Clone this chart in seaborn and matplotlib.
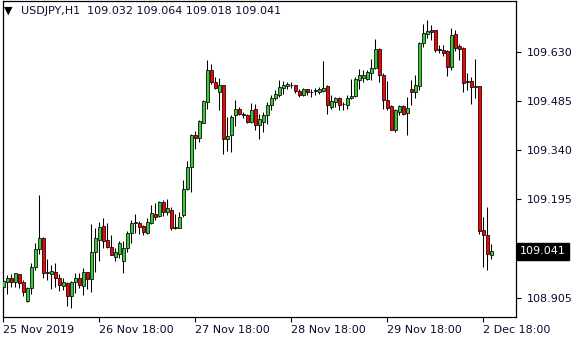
import matplotlib
matplotlib.use("Agg")
import matplotlib.pyplot as plt
import matplotlib.transforms as mtransforms
import seaborn as sns
import numpy as np

# ---------------- data (USDJPY H1) ----------------
opens = [108.935, 108.952, 108.962, 108.952, 108.973, 108.950, 108.896, 108.932, 108.994, 109.047,
         109.080, 108.977, 108.975, 108.981, 108.962, 108.940, 108.949, 108.908, 108.950, 108.962,
         108.940, 108.979, 108.959, 109.038, 109.075, 109.116, 109.075, 109.055, 109.026, 109.035,
         109.014, 109.052, 109.096, 109.124, 109.125, 109.116, 109.097, 109.126, 109.153, 109.145,
         109.187, 109.158, 109.165, 109.113, 109.111, 109.148, 109.227, 109.290, 109.386, 109.375,
         109.422, 109.483, 109.578, 109.542, 109.512, 109.532, 109.372, 109.386, 109.443, 109.463,
         109.446, 109.445, 109.424, 109.463, 109.414, 109.425, 109.443, 109.473, 109.494, 109.502,
         109.524, 109.531, 109.534, 109.532, 109.514, 109.502, 109.520, 109.512, 109.516, 109.512,
         109.516, 109.529, 109.468, 109.483, 109.494, 109.478, 109.475, 109.493, 109.499, 109.549,
         109.553, 109.552, 109.569, 109.583, 109.638, 109.563, 109.490, 109.471, 109.401, 109.453,
         109.470, 109.451, 109.522, 109.512, 109.529, 109.658, 109.684, 109.694, 109.694, 109.638,
         109.637, 109.632, 109.586, 109.684, 109.647, 109.643, 109.545, 109.546, 109.527, 109.529,
         109.104, 109.091, 109.032]
highs = [108.960, 108.971, 108.973, 108.978, 108.975, 108.957, 108.937, 109.006, 109.065, 109.207,
         109.084, 109.019, 109.001, 109.008, 108.973, 108.962, 108.952, 108.954, 108.976, 108.976,
         108.991, 108.979, 109.121, 109.111, 109.127, 109.139, 109.124, 109.089, 109.050, 109.072,
         109.072, 109.101, 109.134, 109.151, 109.131, 109.119, 109.141, 109.178, 109.183, 109.190,
         109.193, 109.196, 109.171, 109.151, 109.158, 109.252, 109.308, 109.387, 109.396, 109.429,
         109.488, 109.607, 109.596, 109.556, 109.553, 109.532, 109.438, 109.443, 109.488, 109.468,
         109.453, 109.448, 109.480, 109.478, 109.448, 109.453, 109.483, 109.504, 109.517, 109.547,
         109.544, 109.542, 109.542, 109.534, 109.522, 109.524, 109.522, 109.520, 109.524, 109.527,
         109.603, 109.532, 109.502, 109.497, 109.497, 109.483, 109.502, 109.552, 109.556, 109.581,
         109.576, 109.576, 109.611, 109.668, 109.643, 109.568, 109.544, 109.475, 109.463, 109.475,
         109.475, 109.497, 109.547, 109.561, 109.660, 109.712, 109.725, 109.711, 109.694, 109.652,
         109.650, 109.635, 109.702, 109.694, 109.655, 109.645, 109.569, 109.556, 109.609, 109.529,
         109.144, 109.173, 109.064]
lows = [108.888, 108.914, 108.937, 108.937, 108.934, 108.908, 108.893, 108.914, 108.986, 109.035,
        108.962, 108.957, 108.929, 108.937, 108.924, 108.927, 108.880, 108.873, 108.917, 108.932,
        108.912, 108.930, 108.920, 108.979, 109.013, 109.052, 109.052, 109.030, 109.013, 109.023,
        108.978, 109.040, 109.065, 109.096, 109.093, 109.089, 109.094, 109.121, 109.134, 109.144,
        109.145, 109.148, 109.104, 109.106, 109.109, 109.143, 109.222, 109.217, 109.345, 109.365,
        109.421, 109.463, 109.537, 109.521, 109.460, 109.330, 109.338, 109.335, 109.411, 109.443,
        109.434, 109.421, 109.421, 109.401, 109.372, 109.394, 109.419, 109.458, 109.488, 109.497,
        109.507, 109.522, 109.524, 109.510, 109.497, 109.500, 109.504, 109.497, 109.504, 109.507,
        109.512, 109.448, 109.463, 109.468, 109.458, 109.458, 109.463, 109.491, 109.497, 109.522,
        109.542, 109.547, 109.547, 109.579, 109.542, 109.463, 109.458, 109.399, 109.394, 109.445,
        109.445, 109.386, 109.475, 109.495, 109.517, 109.645, 109.672, 109.665, 109.630, 109.628,
        109.618, 109.558, 109.576, 109.632, 109.606, 109.512, 109.517, 109.478, 109.493, 109.094,
        108.996, 108.986, 109.018]
closes = [108.954, 108.962, 108.952, 108.976, 108.949, 108.922, 108.932, 108.994, 109.047, 109.080,
          108.976, 108.979, 108.983, 108.962, 108.942, 108.952, 108.908, 108.952, 108.962, 108.942,
          108.979, 108.959, 109.038, 109.080, 109.112, 109.073, 109.055, 109.032, 109.038, 109.067,
          109.050, 109.095, 109.126, 109.128, 109.112, 109.099, 109.127, 109.156, 109.144, 109.187,
          109.158, 109.168, 109.111, 109.111, 109.143, 109.227, 109.290, 109.386, 109.375, 109.426,
          109.487, 109.578, 109.542, 109.525, 109.532, 109.372, 109.383, 109.438, 109.463, 109.448,
          109.444, 109.424, 109.460, 109.414, 109.433, 109.443, 109.473, 109.494, 109.507, 109.527,
          109.532, 109.535, 109.533, 109.514, 109.502, 109.520, 109.512, 109.511, 109.518, 109.522,
          109.525, 109.473, 109.485, 109.494, 109.473, 109.477, 109.493, 109.499, 109.552, 109.561,
          109.563, 109.571, 109.583, 109.638, 109.563, 109.490, 109.465, 109.401, 109.458, 109.470,
          109.448, 109.466, 109.512, 109.532, 109.658, 109.687, 109.691, 109.689, 109.637, 109.636,
          109.628, 109.586, 109.681, 109.643, 109.640, 109.539, 109.543, 109.527, 109.531, 109.101,
          109.091, 109.033, 109.041]

x_tick_bars = [0, 24, 48, 72, 96, 120]
x_tick_labels = ["25 Nov 2019", "26 Nov 18:00", "27 Nov 18:00", "28 Nov 18:00",
                 "29 Nov 18:00", "2 Dec 18:00"]
y_tick_values = [109.630, 109.485, 109.340, 109.195, 108.905]
symbol = "USDJPY,H1"
last_price = 109.041

# ---------------- style ----------------
sns.set_theme(style="white")
plt.rcParams["font.family"] = ["DejaVu Sans"]
text_col = "#0a0a30"
bull_col = "#33cc33"
bear_col = "#ff0000"

fig = plt.figure(figsize=(5.8, 3.4), dpi=100)
fig.patch.set_facecolor("white")
L, R, T, B = 2.5, 516, 0.5, 317
ax = fig.add_axes([L / 580, 1 - B / 340, (R - L) / 580, (B - T) / 340])
ax.set_facecolor("white")

o = np.array(opens); h = np.array(highs); l = np.array(lows); c = np.array(closes)
idx = np.arange(len(o))
up = c >= o

ax.vlines(idx, l, h, color="black", linewidth=0.75, zorder=2)
bottoms = np.minimum(o, c)
heights = np.maximum(np.abs(c - o), 0.0004)
ax.bar(idx[up], heights[up], bottom=bottoms[up], width=0.82, color=bull_col,
       edgecolor="black", linewidth=0.55, zorder=3)
ax.bar(idx[~up], heights[~up], bottom=bottoms[~up], width=0.82, color=bear_col,
       edgecolor="black", linewidth=0.55, zorder=3)

ax.set_xlim(-0.2, 128.2)
ax.set_ylim(108.8474, 109.7825)

for s in ax.spines.values():
    s.set_visible(True)
    s.set_color("black")
    s.set_linewidth(0.9)

ax.yaxis.tick_right()
ax.set_yticks(y_tick_values)
ax.set_yticklabels([f"{v:.3f}" for v in y_tick_values])
ax.set_xticks(x_tick_bars)
ax.set_xticklabels(x_tick_labels)
ax.tick_params(axis="both", which="both", direction="out", length=3.5, width=0.8,
               color="black", labelcolor=text_col, labelsize=8)
ax.tick_params(axis="y", pad=4, right=True, left=False)
ax.tick_params(axis="x", pad=2, bottom=True)
for lab in ax.get_xticklabels():
    lab.set_ha("left")
ax.grid(False)

# current price label
trans = mtransforms.blended_transform_factory(ax.transAxes, ax.transData)
ax.plot([1.0, 1.008], [last_price, last_price], transform=trans, color="black",
        linewidth=0.8, clip_on=False)
ax.text(1.0075, last_price, f"{last_price:.3f}", transform=trans, ha="left", va="center",
        fontsize=8, color="white", clip_on=False,
        bbox=dict(boxstyle="square,pad=0.3", facecolor="black", edgecolor="black"))

# header
fig.text(4 / 580, 1 - 11 / 340, "\u25bc", fontsize=8, color="black", va="center", ha="left")
hdr = f"{symbol}  {opens[-1]:.3f} {highs[-1]:.3f} {lows[-1]:.3f} {closes[-1]:.3f}"
fig.text(21 / 580, 1 - 11 / 340, hdr, fontsize=8, color=text_col, va="center", ha="left")

fig.savefig("out.png", dpi=100, facecolor="white")
